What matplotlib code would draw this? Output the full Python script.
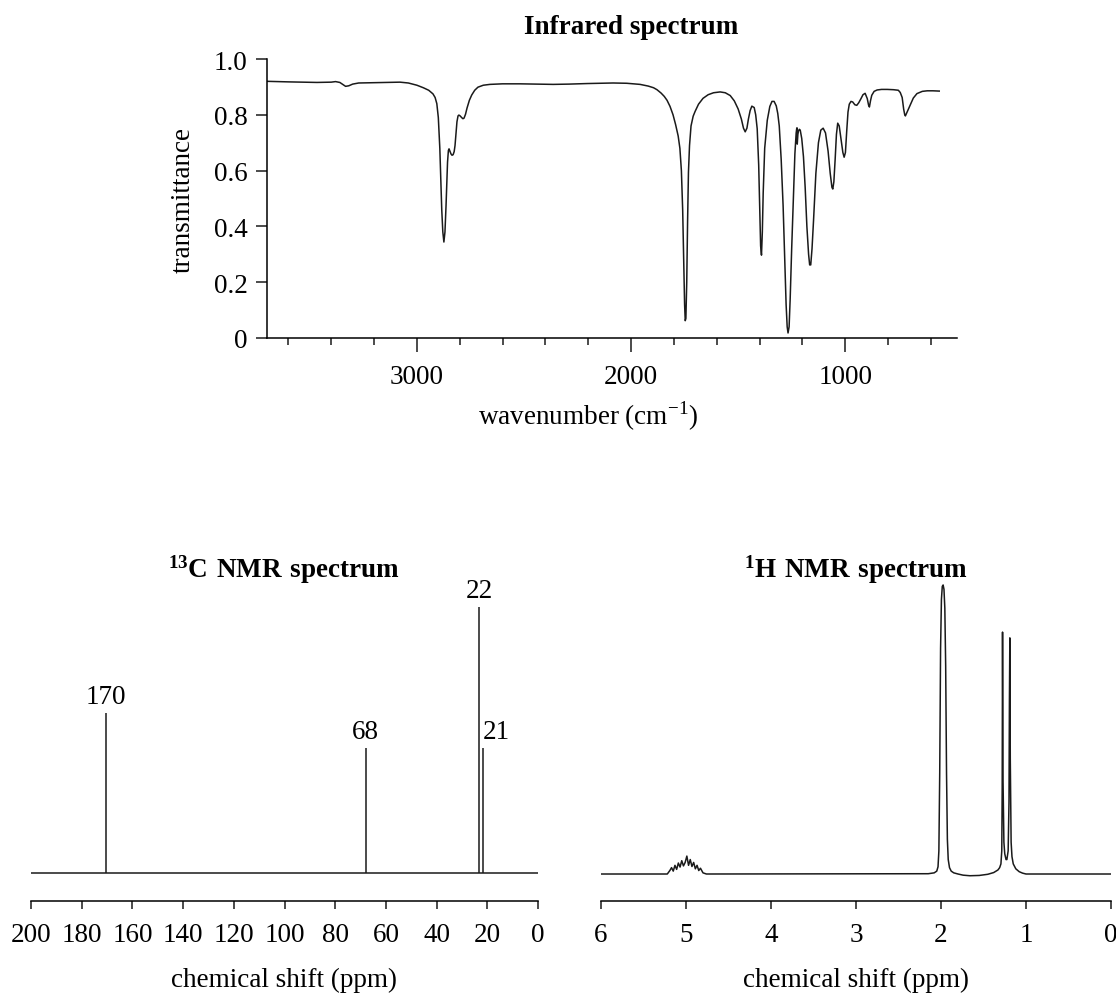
import matplotlib
matplotlib.use("Agg")
import matplotlib.pyplot as plt
from matplotlib.ticker import FixedLocator

W, H = 1116, 995

plt.rcParams["font.family"] = ["Liberation Serif", "DejaVu Serif"]
plt.rcParams["mathtext.fontset"] = "custom"
plt.rcParams["mathtext.rm"] = "Liberation Serif"
plt.rcParams["mathtext.bf"] = "Liberation Serif:bold"
plt.rcParams["axes.linewidth"] = 1.1

INK = "#1a1a1a"
FS = 19.5

# ---- infrared spectrum, traced (wavenumber cm-1, transmittance)
ir_trace = [
    (3700, .920), (3600, .918), (3467, .916), (3400, .917), (3380, .919), (3360, .916),
    (3345, .908), (3333, .902), (3318, .904), (3300, .910), (3272, .914), (3200, .915),
    (3126, .916), (3079, .917), (3040, .914), (3000, .906), (2970, .897), (2945, .888),
    (2925, .875), (2915, .862), (2907, .840), (2900, .790), (2893, .680), (2888, .560),
    (2884, .460), (2879, .380), (2874, .344), (2869, .380), (2864, .474), (2860, .560),
    (2857, .630), (2853, .672), (2850, .678), (2846, .670), (2841, .660), (2836, .655),
    (2831, .657), (2826, .668), (2822, .690), (2817, .735), (2813, .775), (2808, .796),
    (2804, .799), (2798, .796), (2791, .790), (2785, .786), (2780, .788), (2773, .802),
    (2766, .824), (2755, .852), (2744, .871), (2730, .888), (2715, .899), (2690, .906),
    (2659, .909), (2600, .911), (2519, .911), (2440, .910), (2364, .909), (2290, .910),
    (2206, .912), (2140, .913), (2084, .914), (2020, .913), (1958, .909), (1920, .903),
    (1895, .897), (1879, .890), (1860, .878), (1845, .866), (1832, .852), (1818, .830),
    (1804, .800), (1792, .765), (1780, .724), (1772, .680), (1765, .600), (1759, .460),
    (1754, .270), (1750, .120), (1747, .062), (1744, .070), (1740, .200), (1736, .420),
    (1732, .594), (1727, .690), (1720, .760), (1710, .795), (1701, .812), (1685, .838),
    (1664, .859), (1640, .872), (1615, .879), (1584, .882), (1560, .879), (1537, .869),
    (1518, .850), (1500, .821), (1485, .785), (1475, .752), (1467, .739), (1459, .752),
    (1452, .785), (1444, .815), (1436, .831), (1425, .826), (1418, .800), (1411, .750),
    (1404, .620), (1399, .450), (1395, .330), (1391, .297), (1387, .380), (1383, .520),
    (1376, .680), (1364, .780), (1352, .830), (1342, .848), (1332, .848), (1322, .832),
    (1315, .805), (1308, .760), (1299, .640), (1290, .474), (1283, .300), (1276, .120),
    (1271, .040), (1267, .018), (1262, .040), (1257, .140), (1250, .320), (1242, .500),
    (1235, .660), (1229, .735), (1226, .753), (1224.5, .753), (1224, .695), (1221, .730),
    (1218, .743), (1214, .748), (1210, .745), (1203, .715), (1195, .650), (1187, .540),
    (1179, .400), (1171, .300), (1166, .262), (1161, .262), (1155, .320), (1148, .420),
    (1137, .590), (1125, .700), (1114, .745), (1103, .752), (1092, .735), (1080, .670),
    (1070, .590), (1062, .540), (1058, .534), (1053, .560), (1047, .640), (1041, .730),
    (1035, .770), (1028, .760), (1019, .710), (1011, .665), (1005, .648), (999, .665),
    (993, .741), (987, .810), (981, .838), (973, .848), (965, .846), (955, .836),
    (946, .834), (937, .843), (927, .857), (917, .872), (907, .877), (897, .858),
    (891, .835), (887, .828), (882, .850), (876, .870), (865, .884), (851, .889),
    (830, .891), (804, .891), (775, .890), (752, .888), (743, .880), (734, .862),
    (727, .820), (722, .800), (719, .796), (712, .808), (697, .833), (682, .860),
    (665, .876), (640, .884), (617, .886), (590, .886), (561, .885),
]
ir_wavenumber = [p[0] for p in ir_trace]
ir_transmittance = [p[1] for p in ir_trace]
ir_major_ticks = [3000, 2000, 1000]
ir_minor_ticks = [3600, 3400, 3200, 2800, 2600, 2400, 2200, 1800, 1600, 1400, 1200, 800, 600]
ir_yticks = [0, 0.2, 0.4, 0.6, 0.8, 1.0]
ir_yticklabels = ["0", "0.2", "0.4", "0.6", "0.8", "1.0"]

# ---- 13C NMR stick spectrum
c13_shift = [170.5, 68.0, 23.3, 21.8]
c13_height = [0.60, 0.47, 1.0, 0.47]
c13_labels = ["170", "68", "22", "21"]
c13_ticks = [200, 180, 160, 140, 120, 100, 80, 60, 40, 20, 0]

# ---- 1H NMR spectrum, traced (ppm, relative intensity)
h1_trace = [
    (6.00, 0.000), (5.22, 0.000), (5.19, 0.012), (5.17, 0.022), (5.15, 0.010), (5.13, 0.030),
    (5.11, 0.016), (5.09, 0.038), (5.07, 0.024), (5.05, 0.046), (5.03, 0.028), (5.01, 0.040),
    (4.99, 0.062), (4.97, 0.030), (4.95, 0.050), (4.93, 0.026), (4.91, 0.040), (4.89, 0.018),
    (4.87, 0.030), (4.85, 0.012), (4.83, 0.020), (4.80, 0.004), (4.76, 0.000), (2.15, 0.001),
    (2.08, 0.004), (2.05, 0.010), (2.035, 0.025), (2.025, 0.080), (2.015, 0.350), (2.005, 0.780),
    (1.995, 0.950), (1.985, 0.995), (1.975, 1.000), (1.965, 0.985), (1.955, 0.920), (1.945, 0.720),
    (1.935, 0.350), (1.925, 0.120), (1.915, 0.050), (1.90, 0.022), (1.88, 0.010), (1.85, 0.004),
    (1.80, 0.000), (1.74, -0.004), (1.66, -0.006), (1.55, -0.005), (1.45, -0.001), (1.38, 0.005),
    (1.33, 0.014), (1.31, 0.022), (1.295, 0.035), (1.285, 0.080), (1.28, 0.300), (1.276, 0.837),
    (1.27, 0.320), (1.26, 0.110), (1.25, 0.070), (1.235, 0.050), (1.225, 0.050), (1.21, 0.080),
    (1.20, 0.250), (1.195, 0.600), (1.19, 0.817), (1.185, 0.400), (1.175, 0.110), (1.165, 0.060),
    (1.15, 0.035), (1.12, 0.018), (1.08, 0.008), (1.04, 0.003), (1.00, 0.000), (0.00, 0.000),
]
h1_shift = [p[0] for p in h1_trace]
h1_intensity = [p[1] for p in h1_trace]
h1_ticks = [6, 5, 4, 3, 2, 1, 0]


def px_axes(fig, left, top, right, bottom):
    return fig.add_axes([left / W, 1 - bottom / H, (right - left) / W, (bottom - top) / H])


def px_text(fig, x, y, s, **kw):
    fig.text(x / W, 1 - y / H, s, ha="center", va="center", **kw)


fig = plt.figure(figsize=(W / 100, H / 100), dpi=100)

# ---------------- infrared
ax = px_axes(fig, 267, 60, 957, 339)
ax.plot(ir_wavenumber, ir_transmittance, color=INK, lw=1.1, solid_joinstyle="round")
ax.set_xlim(3700, 478)
ax.set_ylim(0, 1.0)
ax.set_xticks(ir_major_ticks)
ax.xaxis.set_minor_locator(FixedLocator(ir_minor_ticks))
ax.set_yticks(ir_yticks)
ax.set_yticklabels(ir_yticklabels)
for side in ["top", "right"]:
    ax.spines[side].set_visible(False)
ax.tick_params(axis="x", which="major", length=10, width=1.1, pad=9, labelsize=FS, color=INK)
ax.tick_params(axis="x", which="minor", length=5, width=1.1, color=INK)
ax.tick_params(axis="y", length=8, width=1.1, pad=6, labelsize=FS, color=INK)
px_text(fig, 631, 27, "Infrared spectrum", fontsize=FS, fontweight="bold")
px_text(fig, 588, 416, "wavenumber (cm$^{-1}$)", fontsize=FS)
px_text(fig, 183, 200, "transmittance", fontsize=FS, rotation=90)

# ---------------- 13C NMR
ax = px_axes(fig, 31, 595, 538, 902)
ax.vlines(c13_shift, 0, c13_height, color=INK, lw=1.1)
ax.plot([200, -1], [0, 0], color=INK, lw=1.1)
for shift, h, lab in zip(c13_shift, c13_height, c13_labels):
    if lab == "21":
        ax.annotate(lab, (shift, h), xytext=(0, 3), textcoords="offset points",
                    ha="left", va="bottom", fontsize=FS)
    else:
        ax.annotate(lab, (shift, h), xytext=(0, 3), textcoords="offset points",
                    ha="center", va="bottom", fontsize=FS)
ax.set_xlim(200, 0)
ax.set_ylim(-0.105, 1.049)
ax.set_xticks(c13_ticks)
ax.set_yticks([])
for side in ["top", "right", "left"]:
    ax.spines[side].set_visible(False)
ax.tick_params(axis="x", length=6, width=1.1, pad=9, labelsize=FS, color=INK)
px_text(fig, 284, 570, r"$\mathbf{^{13}C\ NMR\ spectrum}$", fontsize=FS)
px_text(fig, 284, 980, "chemical shift (ppm)", fontsize=FS)

# ---------------- 1H NMR
ax = px_axes(fig, 601, 575, 1111, 902)
ax.plot(h1_shift, h1_intensity, color=INK, lw=1.1, solid_joinstyle="round")
ax.set_xlim(6, 0)
ax.set_ylim(-0.0934, 1.038)
ax.set_xticks(h1_ticks)
ax.set_yticks([])
for side in ["top", "right", "left"]:
    ax.spines[side].set_visible(False)
ax.tick_params(axis="x", length=6, width=1.1, pad=9, labelsize=FS, color=INK)
px_text(fig, 856, 570, r"$\mathbf{^{1}H\ NMR\ spectrum}$", fontsize=FS)
px_text(fig, 856, 980, "chemical shift (ppm)", fontsize=FS)

fig.savefig("out.png", dpi=100)
